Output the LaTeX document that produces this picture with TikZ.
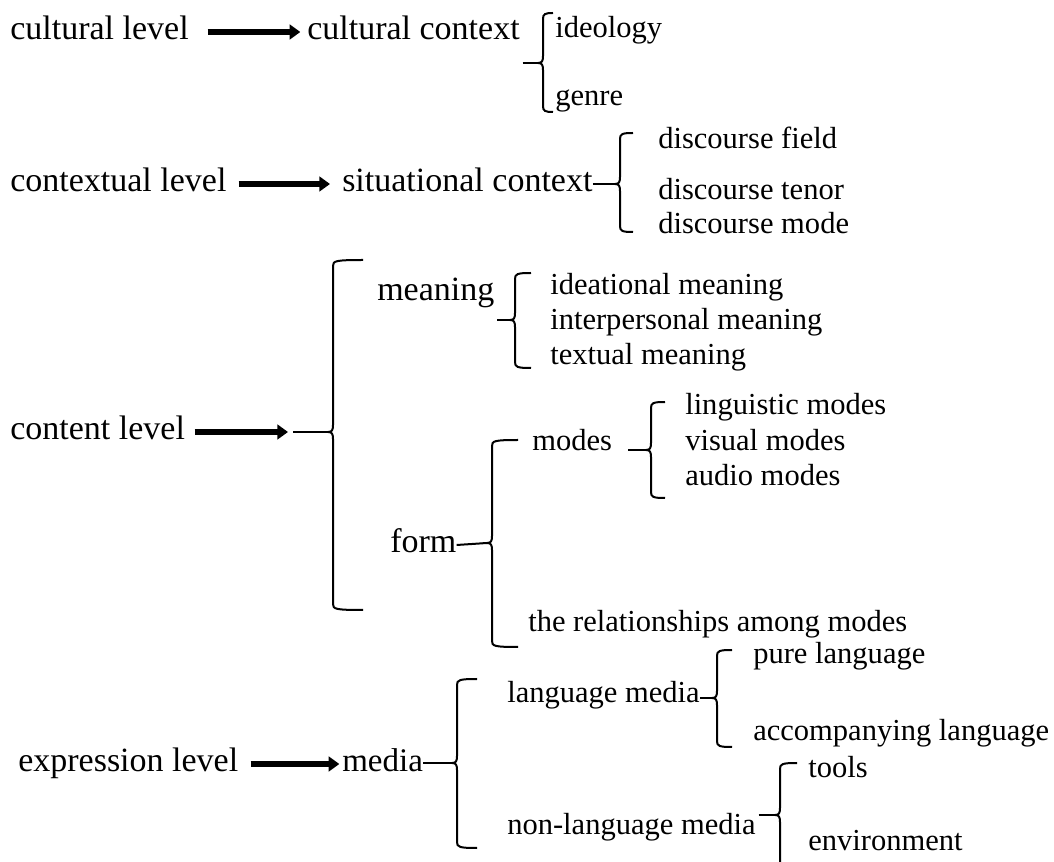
\documentclass[tikz,border=0pt]{standalone}
\usepackage{fontspec}
\setmainfont{Liberation Serif}
\usepackage{tikz}
\usetikzlibrary{arrows.meta,calc}

\tikzset{
    lvl/.style={anchor=west, inner sep=0pt, font=\fontsize{25.5pt}{30pt}\selectfont, text height=17pt, text depth=5pt},
    leaf/.style={anchor=west, inner sep=0pt, font=\fontsize{22.9pt}{27pt}\selectfont, text height=15.5pt, text depth=4.5pt},
    fat arrow/.style={line width=4.6pt, -{Triangle[length=8pt,width=11pt]}},
    brace line/.style={line width=1.5pt}
}

% #1 tip name, #2 x, #3 top, #4 tip y, #5 bottom, #6 hook length
\newcommand{\bracegroup}[6]{%
    \draw[brace line] (#2+#6,#3) .. controls (#2+2,#3) and (#2,#3+1) .. (#2,#3+6)
        -- (#2,#4-7) .. controls (#2,#4-2) and (#2-1,#4) .. (#2-5,#4) coordinate (#1)
        .. controls (#2-1,#4) and (#2,#4+2) .. (#2,#4+7)
        -- (#2,#5-6) .. controls (#2,#5-1) and (#2+2,#5) .. (#2+#6,#5);
}

\begin{document}
\begin{tikzpicture}[x=0.75pt, y=-0.75pt]
    \useasboundingbox (0,0) rectangle (1054,862);

    % Cultural level
    \node[lvl] (cult) at (10,32) {cultural level};
    \node[lvl] (cultctx) at (307,32) {cultural context};
    \draw[fat arrow, shorten <=14pt, shorten >=5pt] (cult.east) -- (cultctx.west);
    \bracegroup{b1}{543}{13}{63}{112}{10}
    \draw[brace line, shorten <=2pt] (cultctx.east |- b1) -- (b1);
    \node[leaf] (ideo) at (555,30) {ideology};
    \node[leaf] (genre) at (555,98) {genre};

    % Contextual level
    \node[lvl] (ctxl) at (10,184) {contextual level};
    \node[lvl] (sitctx) at (342,184) {situational context};
    \draw[fat arrow, shorten <=9pt, shorten >=9pt] (ctxl.east) -- (sitctx.west);
    \bracegroup{b2}{620}{133}{184}{232}{13}
    \draw[brace line] (sitctx.east) -- (b2);
    \node[leaf] (field) at (658,141) {discourse field};
    \node[leaf] (tenor) at (658,192) {discourse tenor};
    \node[leaf] (dmode) at (658,226) {discourse mode};

    % Content level
    \node[lvl] (cont) at (10,432) {content level};
    \coordinate (c3a) at (288,432);
    \draw[fat arrow, shorten <=7pt] (cont.east) -- (c3a);
    \bracegroup{b3}{333}{260}{432}{610}{30}
    \draw[brace line, shorten <=4pt] (c3a) -- (b3);

    \node[lvl] (meaning) at (377,293) {meaning};
    \bracegroup{b4}{515}{273}{320}{368}{16}
    \draw[brace line, shorten <=2pt] (meaning.east |- b4) -- (b4);
    \node[leaf] (idea) at (550,287) {ideational meaning};
    \node[leaf] (inter) at (550,322) {interpersonal meaning};
    \node[leaf] (textual) at (550,357) {textual meaning};

    \node[lvl] (form) at (390,545) {form};
    \bracegroup{b5}{492}{440}{543}{647}{26}
    \draw[brace line] (form.east) -- (b5);
    \node[leaf] (modes) at (532,443) {modes};
    \bracegroup{b6}{651}{402}{450}{498}{14}
    \draw[brace line, shorten <=12pt] (modes.east |- b6) -- (b6);
    \node[leaf] (ling) at (685,407) {linguistic modes};
    \node[leaf] (visual) at (685,443) {visual modes};
    \node[leaf] (audio) at (685,478) {audio modes};
    \node[leaf] (rel) at (528,624) {the relationships among modes};

    % Expression level
    \node[lvl] (expr) at (18,764) {expression level};
    \node[lvl, font=\fontsize{24.75pt}{29pt}\selectfont] (media) at (342,764) {media};
    \draw[fat arrow, shorten <=9pt, shorten >=2pt] (expr.east) -- (media.west);
    \bracegroup{b7}{457}{679}{763}{848}{20}
    \draw[brace line] (media.east |- b7) -- (b7);

    \node[leaf] (langm) at (507,695) {language media};
    \bracegroup{b8}{717}{650}{698}{747}{15}
    \draw[brace line] (langm.east |- b8) -- (b8);
    \node[leaf] (pure) at (753,656) {pure language};
    \node[leaf] (accomp) at (753,733) {accompanying language};

    \node[leaf] (nonlm) at (507,827) {non-language media};
    \bracegroup{b9}{780}{763}{815}{872}{17}
    \draw[brace line, shorten <=2pt] (nonlm.east |- b9) -- (b9);
    \node[leaf] (tools) at (808,770) {tools};
    \node[leaf] (env) at (808,843) {environment};
\end{tikzpicture}
\end{document}
